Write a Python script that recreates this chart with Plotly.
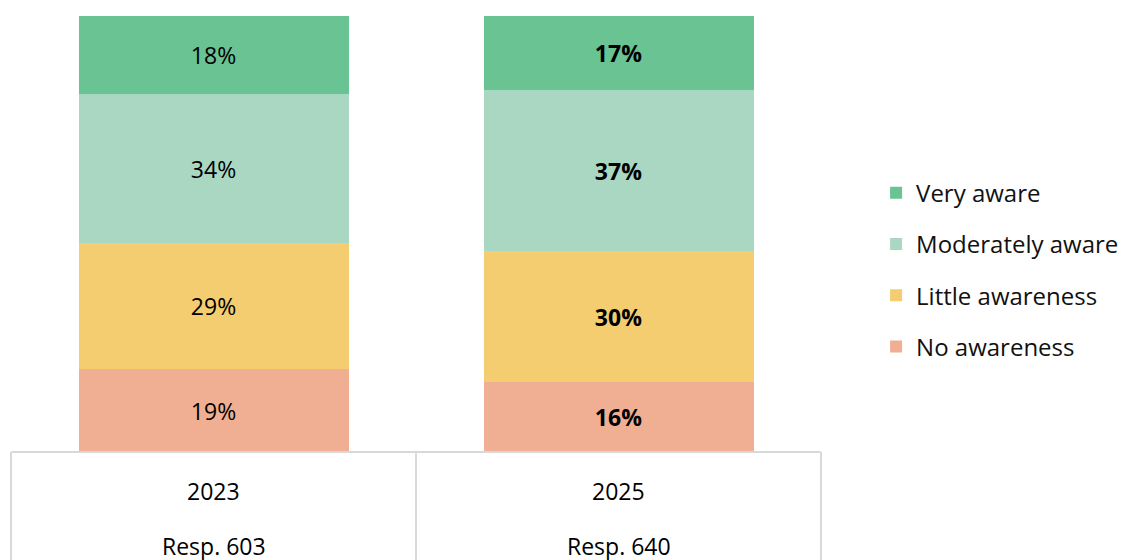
import plotly.graph_objects as go

years = ["2023", "2025"]
respondents = ["Resp. 603", "Resp. 640"]
series_names = ["No awareness", "Little awareness", "Moderately aware", "Very aware"]
no_awareness = [19, 16]
little_awareness = [29, 30]
moderately_aware = [34, 37]
very_aware = [18, 17]
bold_flags = [False, True]

colors = {
    "No awareness": "#F0AF92",
    "Little awareness": "#F4CD70",
    "Moderately aware": "#A9D7C2",
    "Very aware": "#69C393",
}

FONT = "Open Sans, Lato, sans-serif"

fig = go.Figure()
for rank, (name, vals) in enumerate(zip(series_names, [no_awareness, little_awareness, moderately_aware, very_aware])):
    texts = [f"<b>{v}%</b>" if b else f"{v}%" for v, b in zip(vals, bold_flags)]
    fig.add_trace(go.Bar(
        x=years, y=vals, name=name, legendgroup=name, legendrank=1000 - rank,
        marker=dict(color=colors[name], line=dict(width=0)),
        text=texts, textposition="inside", insidetextanchor="middle",
        textfont=dict(color="#000000", size=23, family=FONT),
        hoverinfo="skip",
    ))

# page body has an 8px margin: compensate so the plot area lands at x 11-821, y 16-452
fig.update_layout(
    barmode="stack",
    width=1134, height=560,
    margin=dict(l=3, r=321, t=8, b=116, autoexpand=False),
    paper_bgcolor="white", plot_bgcolor="white",
    bargap=1 - 270 / 405,
    font=dict(family=FONT, color="#000000"),
    showlegend=True,
    legend=dict(
        x=1.068, xanchor="left", y=0.418, yanchor="middle",
        traceorder="grouped", tracegroupgap=17,
        font=dict(size=24, family=FONT, color="#111111"),
        itemclick=False, itemdoubleclick=False,
    ),
    xaxis=dict(type="category", range=[-0.5, 1.5], autorange=False,
               showticklabels=False, showgrid=False, zeroline=False, showline=False, ticks=""),
    yaxis=dict(range=[0, 100], visible=False, showgrid=False),
)

# table box beneath bars
line_style = dict(color="#D9D9D9", width=2)
fig.add_shape(type="line", xref="paper", yref="paper", x0=0, x1=1, y0=0, y1=0, line=line_style, layer="above")
for xp in [0, 0.5, 1]:
    fig.add_shape(type="line", xref="paper", yref="paper", x0=xp, x1=xp, y0=0, y1=-0.4, line=line_style, layer="above")

for i, (yr, resp) in enumerate(zip(years, respondents)):
    fig.add_annotation(x=i, xref="x", y=0, yref="paper", text=yr, showarrow=False,
                       yanchor="middle", yshift=-39, font=dict(size=23, family=FONT, color="#000000"))
    fig.add_annotation(x=i, xref="x", y=0, yref="paper", text=resp, showarrow=False,
                       yanchor="middle", yshift=-94, font=dict(size=23, family=FONT, color="#000000"))

fig.write_html("out.html")
